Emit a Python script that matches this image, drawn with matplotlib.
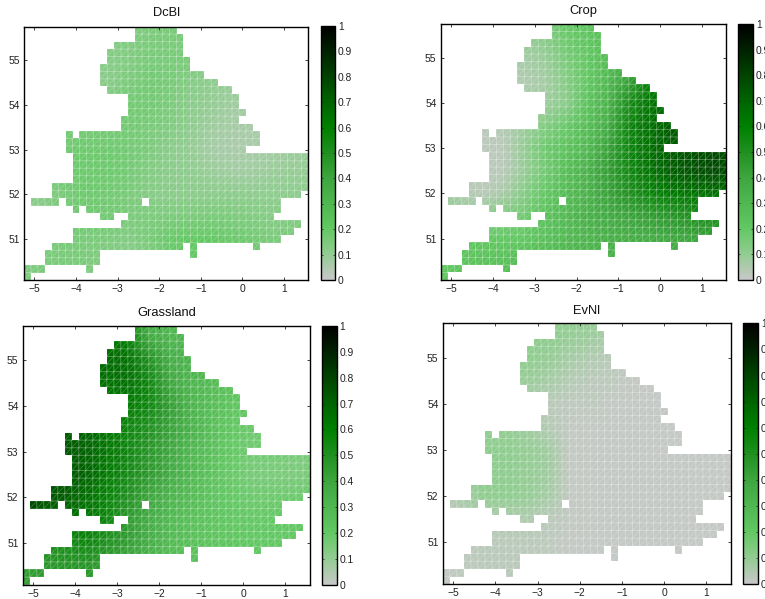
import matplotlib
matplotlib.use("Agg")
import matplotlib.pyplot as plt
import numpy as np
from matplotlib.collections import LineCollection
from matplotlib.colors import LinearSegmentedColormap
from matplotlib.path import Path

plt.rcParams.update({"font.family": ["Liberation Sans", "DejaVu Sans"], "font.size": 7.4})

# land cells: (first col, end col) for each row, south to north, 1/6 degree grid
LON0, LAT0, STEP = -5.25, 50.0833, 1 / 6
NCOLS, NROWS = 41, 34
LAND_SPANS = [
    [(0, 1)], [(0, 3), (9, 10)], [(3, 11)], [(3, 11), (24, 25)],
    [(4, 23), (24, 25), (33, 34)], [(7, 37)], [(7, 39)], [(14, 40)],
    [(11, 13), (15, 36)], [(7, 8), (9, 37)], [(1, 5), (6, 17), (18, 37)],
    [(4, 40)], [(4, 41)], [(7, 41)], [(7, 41)], [(7, 41)], [(7, 41)],
    [(6, 32)], [(6, 34)], [(6, 7), (8, 34)], [(14, 33)], [(14, 31)],
    [(15, 32)], [(15, 31)], [(15, 31)], [(12, 30)], [(11, 28)], [(11, 26)],
    [(11, 24)], [(12, 24)], [(12, 23)], [(13, 23)], [(16, 23)], [(16, 22)],
]

# fractions at these nodes, rows listed north to south
NODE_LON = [-5.25, -4.75, -4.25, -3.75, -3.25, -2.75, -2.25, -1.75, -1.25, -0.75, -0.25, 0.25, 0.75, 1.25, 1.75]
NODE_LAT = [56, 55.5, 55, 54.5, 54, 53.5, 53, 52.5, 52, 51.5, 51, 50.5, 50]

DCBL = [
    [.14, .14, .14, .14, .13, .14, .15, .16, .16, .15, .13, .11, .10, .10, .10],
    [.14, .14, .14, .13, .13, .14, .15, .16, .16, .14, .12, .10, .10, .10, .10],
    [.13, .13, .13, .13, .13, .14, .16, .16, .15, .13, .11, .10, .09, .09, .09],
    [.13, .13, .13, .12, .12, .15, .17, .16, .13, .11, .10, .09, .09, .09, .09],
    [.14, .14, .14, .14, .15, .17, .17, .15, .12, .10, .08, .08, .08, .08, .08],
    [.16, .16, .16, .16, .16, .17, .16, .14, .11, .08, .07, .06, .06, .06, .06],
    [.17, .17, .17, .18, .18, .17, .15, .12, .10, .07, .06, .06, .07, .08, .09],
    [.15, .16, .17, .18, .18, .17, .14, .12, .11, .09, .08, .08, .09, .10, .10],
    [.11, .13, .16, .18, .17, .16, .13, .12, .12, .12, .12, .11, .11, .11, .11],
    [.10, .12, .16, .17, .17, .16, .15, .15, .15, .16, .15, .14, .13, .13, .13],
    [.14, .15, .16, .16, .15, .14, .16, .19, .20, .20, .19, .17, .15, .15, .15],
    [.14, .15, .16, .15, .13, .12, .13, .17, .20, .20, .19, .17, .15, .15, .15],
    [.14, .15, .15, .14, .13, .12, .13, .16, .19, .19, .18, .17, .15, .15, .15],
]
CROP = [
    [.15, .15, .15, .15, .12, .15, .20, .22, .26, .30, .40, .50, .55, .60, .60],
    [.10, .10, .10, .10, .10, .13, .19, .22, .26, .32, .42, .52, .58, .62, .62],
    [.05, .05, .05, .06, .07, .09, .16, .21, .27, .34, .45, .55, .60, .62, .62],
    [.03, .03, .03, .04, .05, .07, .13, .21, .30, .42, .58, .65, .65, .65, .65],
    [.03, .03, .04, .05, .06, .08, .12, .24, .33, .52, .64, .67, .70, .70, .70],
    [.02, .03, .03, .04, .08, .14, .19, .27, .37, .56, .66, .72, .74, .75, .75],
    [.02, .02, .02, .03, .10, .18, .24, .30, .42, .56, .66, .72, .76, .78, .78],
    [.03, .03, .03, .03, .09, .17, .27, .34, .44, .55, .65, .72, .75, .78, .78],
    [.08, .05, .03, .06, .13, .21, .28, .34, .42, .50, .57, .62, .64, .66, .66],
    [.12, .10, .12, .14, .17, .24, .30, .35, .38, .41, .44, .47, .50, .52, .52],
    [.20, .20, .21, .21, .21, .25, .30, .33, .35, .36, .37, .39, .40, .42, .42],
    [.21, .22, .24, .25, .27, .29, .32, .32, .33, .33, .33, .33, .33, .34, .34],
    [.21, .22, .24, .26, .28, .30, .32, .32, .33, .33, .33, .33, .33, .34, .34],
]
GRASSLAND = [
    [.60, .60, .60, .60, .58, .50, .34, .30, .30, .26, .24, .22, .22, .22, .22],
    [.65, .65, .65, .65, .66, .58, .38, .32, .31, .28, .25, .22, .22, .22, .22],
    [.68, .68, .68, .66, .68, .66, .50, .36, .33, .30, .26, .23, .22, .22, .22],
    [.68, .68, .68, .66, .66, .66, .56, .40, .32, .28, .24, .21, .20, .20, .20],
    [.68, .68, .68, .66, .64, .62, .56, .44, .33, .27, .22, .20, .20, .20, .20],
    [.72, .72, .72, .70, .64, .56, .50, .42, .34, .26, .21, .18, .18, .18, .18],
    [.72, .74, .74, .71, .64, .56, .48, .40, .31, .25, .20, .17, .17, .16, .16],
    [.74, .75, .75, .70, .62, .54, .46, .38, .30, .24, .19, .16, .15, .15, .16],
    [.80, .76, .72, .66, .58, .50, .40, .33, .28, .23, .20, .18, .18, .18, .18],
    [.80, .70, .66, .64, .56, .46, .37, .30, .25, .23, .21, .20, .20, .21, .21],
    [.50, .50, .53, .56, .50, .44, .36, .29, .25, .23, .22, .21, .21, .21, .21],
    [.44, .46, .48, .48, .44, .38, .32, .27, .24, .23, .22, .21, .21, .21, .21],
    [.42, .44, .46, .46, .42, .36, .30, .26, .24, .23, .22, .21, .21, .21, .21],
]
EVNL = [
    [.10, .10, .10, .10, .11, .11, .11, .10, .05, .02, .01, .01, .01, .01, .01],
    [.10, .10, .10, .10, .11, .11, .10, .09, .05, .02, .01, .01, .01, .01, .01],
    [.10, .10, .10, .11, .11, .10, .07, .05, .03, .02, .01, .01, .01, .01, .01],
    [.10, .10, .10, .10, .09, .07, .04, .03, .02, .01, .01, .01, .01, .01, .01],
    [.05, .05, .05, .05, .05, .03, .02, .02, .01, .01, .01, .01, .01, .01, .01],
    [.10, .10, .10, .10, .08, .04, .015, .01, .01, .01, .01, .01, .01, .01, .01],
    [.10, .11, .11, .11, .10, .08, .015, .01, .01, .01, .01, .01, .01, .01, .01],
    [.10, .11, .11, .11, .10, .08, .015, .01, .01, .01, .01, .01, .01, .01, .01],
    [.03, .07, .11, .11, .10, .07, .015, .01, .01, .01, .01, .01, .01, .01, .01],
    [.02, .03, .05, .05, .05, .03, .015, .01, .01, .01, .01, .01, .01, .01, .01],
    [.02, .02, .03, .03, .03, .02, .01, .01, .01, .01, .01, .01, .01, .01, .01],
    [.01, .02, .03, .03, .03, .02, .01, .01, .01, .01, .01, .01, .01, .01, .01],
    [.01, .02, .03, .03, .03, .02, .01, .01, .01, .01, .01, .01, .01, .01, .01],
]

COLOR_STOPS = ["#c8c8c8", "#92cc92", "#62c862", "#50b850", "#3ea63e", "#209020",
               "#008000", "#006400", "#004400", "#002200", "#000000"]
CBAR_TICKS = [0, 0.1, 0.2, 0.3, 0.4, 0.5, 0.6, 0.7, 0.8, 0.9, 1]
CBAR_LABELS = ["0", "0.1", "0.2", "0.3", "0.4", "0.5", "0.6", "0.7", "0.8", "0.9", "1"]
X_TICKS = [-5, -4, -3, -2, -1, 0, 1]
Y_TICKS = [51, 52, 53, 54, 55]

W, H = 765, 599
# name, values, map box (left, right, top, bottom in px), colorbar box, title y in px
PANELS = [
    ("DcBl", DCBL, (24, 308.3, 26.7, 280), (320.5, 335, 26, 280), 13),
    ("Crop", CROP, (440.7, 726.3, 24, 280), (738.3, 753.3, 24, 280), 11),
    ("Grassland", GRASSLAND, (22.7, 310, 326, 584.7), (321.7, 336.7, 326, 584.7), 313),
    ("EvNl", EVNL, (442.7, 731, 323.3, 584.3), (743.3, 758.3, 323.3, 584.3), 311),
]

cmap = LinearSegmentedColormap.from_list("grey_green", COLOR_STOPS)


def px_axes(fig, box):
    """Add axes from a (left, right, top, bottom) pixel box."""
    left, right, top, bottom = box
    return fig.add_axes([left / W, 1 - bottom / H, (right - left) / W, (bottom - top) / H])


def land_geometry():
    """Return the clip path, cell edge segments and diagonal segments of the land mask."""
    verts, codes, edges, diags = [], [], [], []
    for row, spans in enumerate(LAND_SPANS):
        y0 = LAT0 + row * STEP
        y1 = y0 + STEP
        for start, end in spans:
            for col in range(start, end):
                x0 = LON0 + col * STEP
                x1 = x0 + STEP
                verts += [(x0, y0), (x1, y0), (x1, y1), (x0, y1), (x0, y0)]
                codes += [Path.MOVETO, Path.LINETO, Path.LINETO, Path.LINETO, Path.CLOSEPOLY]
                edges += [[(x0, y0), (x1, y0)], [(x1, y0), (x1, y1)], [(x1, y1), (x0, y1)], [(x0, y1), (x0, y0)]]
                diags.append([(x0, y0), (x1, y1)])
    return Path(verts, codes), edges, diags


fig = plt.figure(figsize=(W / 100, H / 100), dpi=100)
land, cell_edges, cell_diags = land_geometry()

for name, values, map_box, cbar_box, title_y in PANELS:
    ax = px_axes(fig, map_box)
    mesh = ax.pcolormesh(NODE_LON, NODE_LAT, np.array(values), cmap=cmap, vmin=0, vmax=1, shading="gouraud")
    mesh.set_clip_path(land, ax.transData)
    edge_lines = LineCollection(cell_edges, colors="white", linewidths=0.7, alpha=0.17)
    diag_lines = LineCollection(cell_diags, colors="white", linewidths=0.45, alpha=0.28)
    for lines in (edge_lines, diag_lines):
        lines.set_snap(False)
        ax.add_collection(lines)
    ax.set_xlim(LON0, LON0 + NCOLS * STEP)
    ax.set_ylim(LAT0, LAT0 + NROWS * STEP)
    ax.set_xticks(X_TICKS)
    ax.set_yticks(Y_TICKS)
    ax.tick_params(direction="in", top=True, right=True, length=2.5, width=0.6, pad=3, labelsize=7.4, colors="#222222")
    for spine in ax.spines.values():
        spine.set_linewidth(1.0)
    fig.text((map_box[0] + map_box[1]) / 2 / W, 1 - title_y / H, name, ha="center", va="center", fontsize=9.3, color="#111111")

    cax = px_axes(fig, cbar_box)
    cbar = fig.colorbar(mesh, cax=cax, ticks=CBAR_TICKS)
    cbar.ax.set_yticklabels(CBAR_LABELS)
    cbar.ax.tick_params(direction="in", left=True, right=True, length=1.5, width=0.5, pad=2, labelsize=7.4, colors="#222222")
    cbar.outline.set_linewidth(1.0)

fig.savefig("out.png", dpi=100, facecolor="white")
plt.close(fig)
